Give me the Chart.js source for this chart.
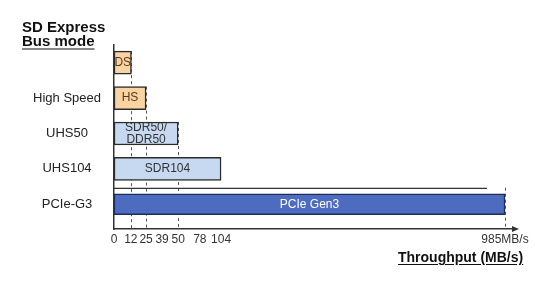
<!DOCTYPE html>
<html>
<head>
<meta charset="utf-8">
<script src="https://cdn.jsdelivr.net/npm/chart.js@4/dist/chart.umd.min.js"></script>
<style>
  body { margin: 0; background: #fff; }
  #wrap { position: relative; width: 560px; height: 283px; }
  .ttl { position: absolute; font-family: "Liberation Sans", Arial, sans-serif; font-weight: bold; color: #111; }
  #titulo { left: 22px; top: 20px; font-size: 15px; line-height: 14px; }
  #titulo u { text-decoration-color: #888; text-decoration-thickness: 2px; text-underline-offset: 2px; }
  #eixoX { left: 398px; top: 249px; font-size: 14px; line-height: 16px; text-decoration: underline; text-underline-offset: 2px; }
</style>
</head>
<body>
<div id="wrap">
  <canvas id="Canvas" width="560" height="283"></canvas>
  <div class="ttl" id="titulo">SD Express<br><u>Bus mode</u></div>
  <div class="ttl" id="eixoX">Throughput (MB/s)</div>
</div>
<script>
// dados
let modos = ["", "High Speed", "UHS50", "UHS104", "PCIe-G3"];
let nomesBarras = ["DS", "HS", "SDR50/\nDDR50", "SDR104", "PCIe Gen3"];
let velocidades = [12.5, 25, 50, 104, 985];
let moldura = 930; // linha por cima do PCIe
let ticksX = [0, 12, 25, 39, 50, 78, 104, 985];
let labelsX = ["0", "12", "25", "39", "50", "78", "104", "985MB/s"];
let comGuia = [true, true, true, false, true];

// escala nao linear (como no desenho original)
class EscalaQuebrada extends Chart.LinearScale {
  getPixelForValue(v) {
    if (v === null || v === undefined) return NaN;
    let p = this.options.stops;
    let f = p[p.length - 1][1];
    for (let i = 1; i < p.length; i++) {
      if (v <= p[i][0]) {
        f = p[i - 1][1] + (v - p[i - 1][0]) / (p[i][0] - p[i - 1][0]) * (p[i][1] - p[i - 1][1]);
        break;
      }
    }
    return this.getPixelForDecimal(f);
  }
  getValueForPixel(px) {
    let f = this.getDecimalForPixel(px);
    let p = this.options.stops;
    for (let i = 1; i < p.length; i++) {
      if (f <= p[i][1]) {
        return p[i - 1][0] + (f - p[i - 1][1]) / (p[i][1] - p[i - 1][1]) * (p[i][0] - p[i - 1][0]);
      }
    }
    return p[p.length - 1][0];
  }
}
EscalaQuebrada.id = "quebrada";
EscalaQuebrada.defaults = {};
Chart.register(EscalaQuebrada);

let cores = ["#F9D4A2", "#F9D4A2", "#C6D9F0", "#C6D9F0"];
let coresTexto = ["#5a3a1c", "#5a3a1c", "#333", "#333", "#fff"];

// cada barra fica na linha do seu modo
let linha = (v, i) => ({ x: v, y: i });

// linhas tracejadas abaixo das barras + textos + seta
let guias = {
  id: "guias",
  beforeDatasetsDraw(chart) {
    let ctx = chart.ctx;
    let x = chart.scales.x;
    let base = chart.chartArea.bottom;
    ctx.save();
    ctx.strokeStyle = "#555";
    ctx.lineWidth = 1;
    ctx.setLineDash([3, 3]);
    velocidades.forEach((v, i) => {
      if (!comGuia[i]) return;
      let topo = base;
      chart.data.datasets.forEach((ds, d) => {
        chart.getDatasetMeta(d).data.forEach((el, j) => {
          if (ds.data[j].y === i) topo = Math.min(topo, el.y - el.height / 2);
        });
      });
      let px = Math.round(x.getPixelForValue(v)) + 0.5;
      ctx.beginPath();
      ctx.moveTo(px, topo);
      ctx.lineTo(px, base);
      ctx.stroke();
    });
    ctx.restore();
  },
  afterDatasetsDraw(chart) {
    let ctx = chart.ctx;
    ctx.save();
    ctx.font = "12px 'Liberation Sans', Arial, sans-serif";
    ctx.textAlign = "center";
    ctx.textBaseline = "middle";
    [0, 1].forEach((d) => {
      chart.getDatasetMeta(d).data.forEach((el, j) => {
        let i = chart.data.datasets[d].data[j].y;
        let linhas = nomesBarras[i].split("\n");
        let cx = (el.x + el.base) / 2;
        ctx.fillStyle = coresTexto[i];
        linhas.forEach((t, k) => {
          ctx.fillText(t, cx, el.y + (k - (linhas.length - 1) / 2) * 12);
        });
      });
    });
    // seta do eixo x
    let a = chart.chartArea;
    ctx.fillStyle = "#333";
    ctx.beginPath();
    ctx.moveTo(a.right + 4, a.bottom);
    ctx.lineTo(a.right - 3, a.bottom - 3);
    ctx.lineTo(a.right - 3, a.bottom + 3);
    ctx.closePath();
    ctx.fill();
    ctx.restore();
  }
};

new Chart(document.getElementById("Canvas").getContext("2d"), {
  type: "bar",
  data: {
    datasets: [
      {
        data: velocidades.map(linha).slice(0, 4),
        backgroundColor: cores,
        borderColor: "#2b2b2b",
        borderWidth: 1.5,
        borderSkipped: false,
        barThickness: 23,
        grouped: false
      },
      {
        data: velocidades.map(linha).slice(4),
        backgroundColor: "#4D6CBF",
        borderColor: "#1e2c5a",
        borderWidth: 1.5,
        borderSkipped: false,
        barThickness: 21,
        grouped: false
      },
      {
        data: [linha(moldura, 4)],
        backgroundColor: "rgba(0,0,0,0)",
        borderColor: "#333",
        borderWidth: { top: 1, right: 0, bottom: 0, left: 0 },
        borderSkipped: false,
        barThickness: 33,
        grouped: false
      }
    ]
  },
  options: {
    indexAxis: "y",
    responsive: false,
    animation: false,
    layout: { padding: { top: 45, right: 45, left: 0, bottom: 0 } },
    plugins: { legend: { display: false }, tooltip: { enabled: false } },
    scales: {
      x: {
        type: "quebrada",
        min: 0,
        max: 1010,
        stops: [[0, 0], [12, 0.042], [25, 0.08], [39, 0.12], [50, 0.16], [78, 0.214], [104, 0.267], [985, 0.975], [1010, 1]],
        afterBuildTicks: (s) => { s.ticks = ticksX.map((v) => ({ value: v })); },
        afterFit: (s) => { s.height = 54; },
        grid: { display: false, drawTicks: false },
        border: { color: "#333", width: 1.5 },
        ticks: {
          autoSkip: false,
          maxRotation: 0,
          padding: 3,
          color: "#333",
          font: { family: "'Liberation Sans', Arial, sans-serif", size: 12 },
          callback: (v, i) => labelsX[i]
        }
      },
      y: {
        type: "linear",
        reverse: true,
        offset: false,
        min: -0.5,
        max: 4.7,
        afterBuildTicks: (s) => { s.ticks = modos.map((m, i) => ({ value: i })); },
        afterFit: (s) => { s.width = 114; },
        grid: { display: false, drawTicks: false, offset: false },
        border: { color: "#333", width: 1.5 },
        ticks: {
          crossAlign: "center",
          padding: 13,
          color: "#222",
          font: { family: "'Liberation Sans', Arial, sans-serif", size: 13 },
          callback: (v) => modos[v]
        }
      }
    }
  },
  plugins: [guias]
});
</script>
</body>
</html>
